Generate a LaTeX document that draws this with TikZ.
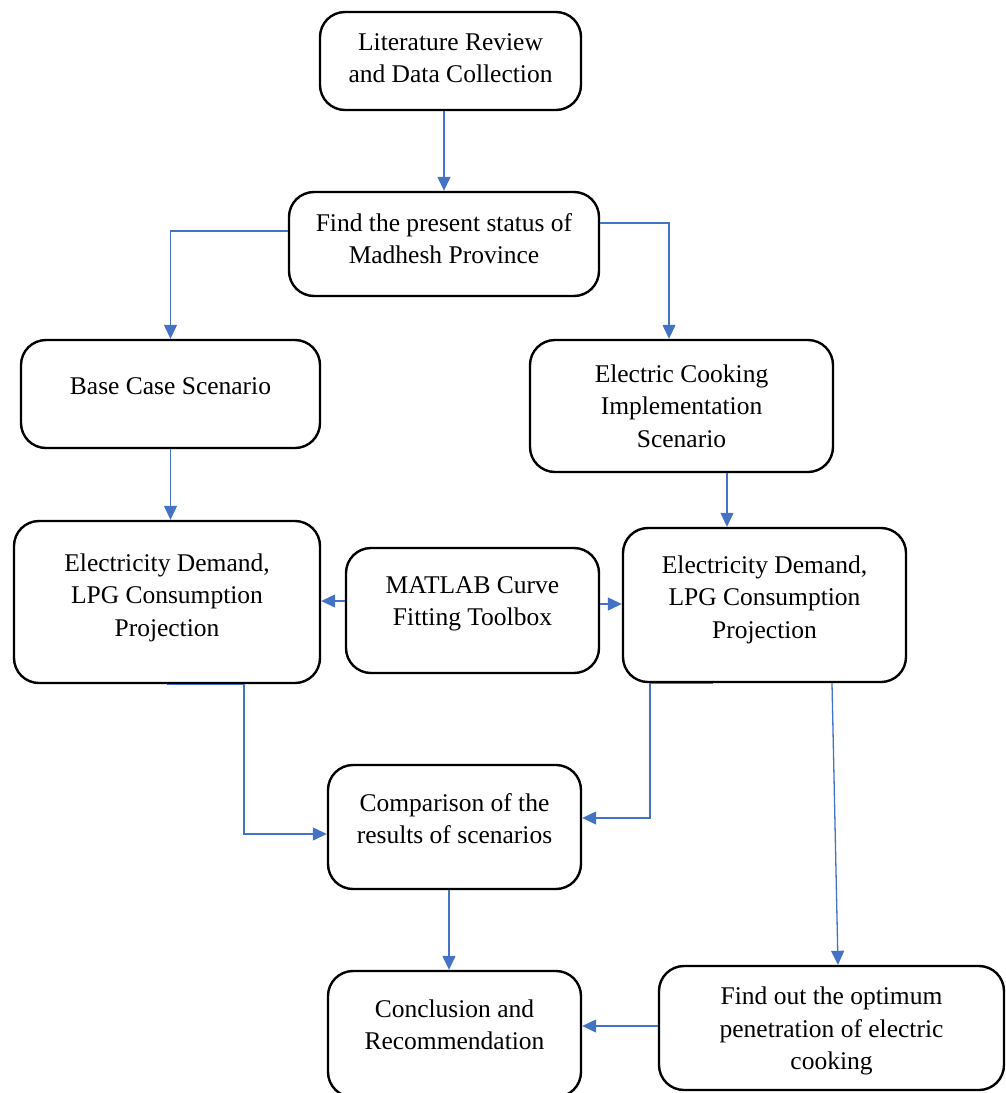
\documentclass[tikz,border=0pt]{standalone}
\usepackage{fontspec}
\setmainfont{Liberation Serif}
\usetikzlibrary{arrows.meta,calc}
\definecolor{flowblue}{HTML}{4472C4}
\begin{document}
\begin{tikzpicture}[x=1pt,y=-1pt,
  box/.style={draw=black, line width=2.4pt, rounded corners=25pt, align=center,
    inner sep=0pt, font=\fontsize{25.5}{32.5}\selectfont},
  arr/.style={draw=flowblue, line width=1.3pt,
    -{Triangle[length=14pt,width=13pt]}}]
\useasboundingbox (0,0) rectangle (1005,1093);

% process boxes (text depth sets how high the text sits in its box)
\node[box, minimum width=261pt, minimum height=98pt, text depth=6pt]    (lit) at (450.5,61)  {Literature Review\\and Data Collection};
\node[box, minimum width=310pt, minimum height=104pt, text depth=10.5pt] (find) at (444,244)  {Find the present status of\\Madhesh Province};
\node[box, minimum width=299pt, minimum height=108pt, text depth=16pt]  (base) at (170.5,394) {Base Case Scenario};
\node[box, minimum width=303pt, minimum height=132pt]                   (ecs) at (681.5,406) {Electric Cooking\\Implementation\\Scenario};
\node[box, minimum width=306pt, minimum height=162pt, text depth=14.5pt] (led) at (167,602)   {Electricity Demand,\\LPG Consumption\\Projection};
\node[box, minimum width=253pt, minimum height=125pt, text depth=18.5pt] (mat) at (472.5,610.5) {MATLAB Curve\\Fitting Toolbox};
\node[box, minimum width=283pt, minimum height=154pt, text depth=16.5pt] (red) at (764.5,605) {Electricity Demand,\\LPG Consumption\\Projection};
\node[box, minimum width=253pt, minimum height=124pt, text depth=16.5pt] (cmp) at (454.5,827) {Comparison of the\\results of scenarios};
\node[box, minimum width=253pt, minimum height=126pt, text depth=18.5pt] (con) at (454.5,1034) {Conclusion and\\Recommendation};
% a taller first line sets this text a little lower in its box
\node[box, minimum width=345pt, minimum height=124pt] (opt) at (831.5,1028) {\rule{0pt}{24pt}Find out the optimum\\penetration of electric\\cooking};

% connectors
\draw[arr] (find.north |- lit.south) -- (find.north);
\draw[arr] (find.west |- 0,231) -| (base.north);
\draw[arr] (find.east |- 0,223) -| (ecs.north -| 669,0);
\draw[arr] (base.south) -- (base.south |- led.north);
\draw[arr] (ecs.south -| 727,0) -- (red.north -| 727,0);
\draw[arr] (mat.west |- 0,601) -- (led.east |- 0,601);
\draw[arr] (mat.east |- 0,604) -- (red.west |- 0,604);
\draw[arr] (led.south) -- (led.south -| 244,0) |- (cmp.west |- 0,834);
\draw[arr] (red.south -| 713,0) -- (red.south -| 650,0) |- (cmp.east |- 0,818);
\draw[arr] (red.south -| 832,0) -- (opt.north -| 838,0);
\draw[arr] (cmp.south -| 449,0) -- (con.north -| 449,0);
\draw[arr] (opt.west |- 0,1026) -- (con.east |- 0,1026);
\end{tikzpicture}
\end{document}
